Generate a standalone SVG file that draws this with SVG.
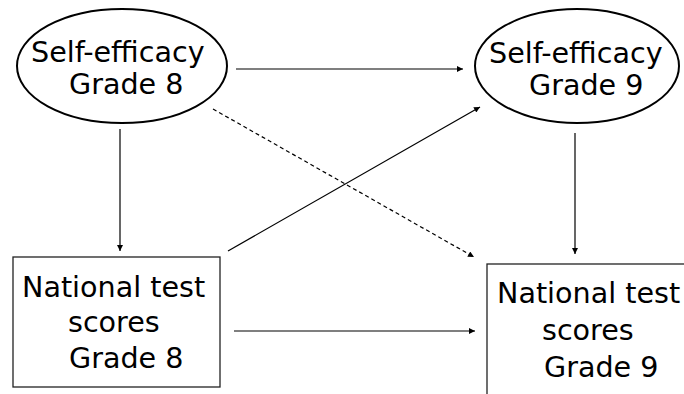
<svg xmlns="http://www.w3.org/2000/svg" width="684" height="394" viewBox="0 0 684 394">
<style>
.lbl{font-family:"DejaVu Sans",sans-serif;font-size:28.6px;fill:#000}
.ell{fill:#fff;stroke:#000;stroke-width:2}
.box{fill:#fff;stroke:#222;stroke-width:1.3}
.c{stroke:#000;stroke-width:1.2;fill:none}
.d{stroke-dasharray:4,3}
</style>
<defs>
<marker id="ah" viewBox="0 0 10 10" refX="10" refY="5" markerWidth="9" markerHeight="6" markerUnits="userSpaceOnUse" orient="auto">
<path d="M0,0 L10,5 L0,10 Z" fill="#000"/>
</marker>
</defs>
<rect width="684" height="394" fill="#fff"/>
<g id="se8">
<ellipse class="ell" cx="122" cy="66" rx="105" ry="57"/>
<text class="lbl" x="31" y="62">Self-efficacy</text>
<text class="lbl" x="69" y="94">Grade 8</text>
</g>
<g id="se9">
<ellipse class="ell" cx="577" cy="66" rx="102" ry="57"/>
<text class="lbl" x="489" y="63">Self-efficacy</text>
<text class="lbl" x="529" y="95">Grade 9</text>
</g>
<g id="nt8">
<rect class="box" x="13" y="257" width="207" height="130"/>
<text class="lbl" x="22" y="297">National test</text>
<text class="lbl" x="68" y="332">scores</text>
<text class="lbl" x="69" y="368">Grade 8</text>
</g>
<g id="nt9">
<rect class="box" x="487" y="264" width="220" height="140"/>
<text class="lbl" x="497" y="303">National test</text>
<text class="lbl" x="542" y="340">scores</text>
<text class="lbl" x="544" y="377">Grade 9</text>
</g>
<g id="connectors">
<line class="c" x1="236" y1="69" x2="463" y2="69" marker-end="url(#ah)"/>
<line class="c d" x1="213" y1="109" x2="474" y2="257" marker-end="url(#ah)"/>
<line class="c" x1="228" y1="251" x2="480" y2="107" marker-end="url(#ah)"/>
<line class="c" x1="120" y1="129" x2="120" y2="251" marker-end="url(#ah)"/>
<line class="c" x1="575" y1="133" x2="575" y2="254" marker-end="url(#ah)"/>
<line class="c" x1="234" y1="331" x2="475" y2="331" marker-end="url(#ah)"/>
</g>
</svg>
